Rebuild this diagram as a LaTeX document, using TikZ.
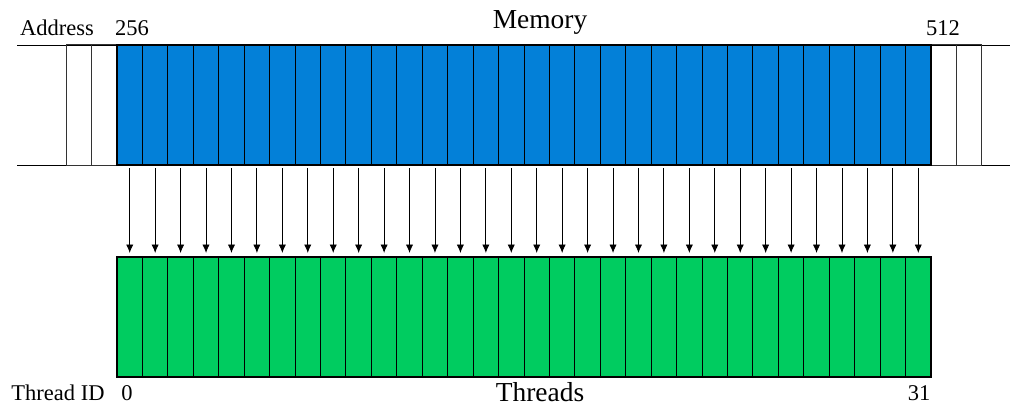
\documentclass[tikz,border=0pt]{standalone}
\usepackage{fontspec}
\setmainfont{Liberation Serif}
\usetikzlibrary{arrows.meta}
\definecolor{memblue}{RGB}{3,128,216}
\definecolor{thrgreen}{RGB}{0,204,96}
\tikzset{
  cellbox/.style={draw, line width=0.7pt, minimum width=0.6359cm, minimum height=3cm,
    inner sep=0pt, outer sep=0pt},
  memcell/.style={cellbox, fill=memblue},
  thrcell/.style={cellbox, fill=thrgreen},
  blankcell/.style={cellbox, draw=black!80},
  rowline/.style={line width=0.7pt},
  frame/.style={line width=1.5pt},
  arr/.style={line width=0.6pt, -{Latex[length=6pt,width=5.2pt]},
    shorten <=0.08cm, shorten >=0.1cm},
  lbl/.style={font=\fontsize{16}{18}\selectfont, anchor=base, inner sep=0pt},
  ttl/.style={font=\fontsize{19.5}{22}\selectfont, anchor=base, inner sep=0pt}
}
\begin{document}
\begin{tikzpicture}[x=0.025cm,y=-0.025cm]
\useasboundingbox (0,0) rectangle (1010,406);
% memory row with the address lines
\draw[rowline] (17,45) coordinate (rowa) -- (1010,45) coordinate (rowb);
\draw[rowline] (17,165) coordinate (rowc) -- (1010,165) coordinate (rowd);
\node[blankcell] (lb1) at (78.84,105) {};
\node[blankcell] (lb2) at (104.28,105) {};
\node[blankcell] (rb1) at (943.72,105) {};
\node[blankcell] (rb2) at (969.16,105) {};
\foreach \i in {0,...,31}{
  \node[memcell] (m\i) at (117+25.4375*\i+12.72,105) {};
  \node[thrcell] (t\i) at (117+25.4375*\i+12.72,317) {};
}
\draw[frame] (m0.north west) rectangle (m31.south east);
\draw[frame] (t0.north west) rectangle (t31.south east);
\foreach \i in {0,...,31}
  \draw[arr] (m\i.south) -- (t\i.north);
% labels
\node[lbl] (addr) at (57,36) {Address};
\node[lbl] (a256) at (132,36) {256};
\node[lbl] (a512) at (943,36) {512};
\node[ttl] (mem) at (540,29) {Memory};
\node[lbl] (tid) at (58,400) {Thread ID};
\node[lbl] (t0l) at (127,400) {0};
\node[lbl] (t31l) at (919,400) {31};
\node[ttl] (thr) at (540,401) {Threads};
\end{tikzpicture}
\end{document}
